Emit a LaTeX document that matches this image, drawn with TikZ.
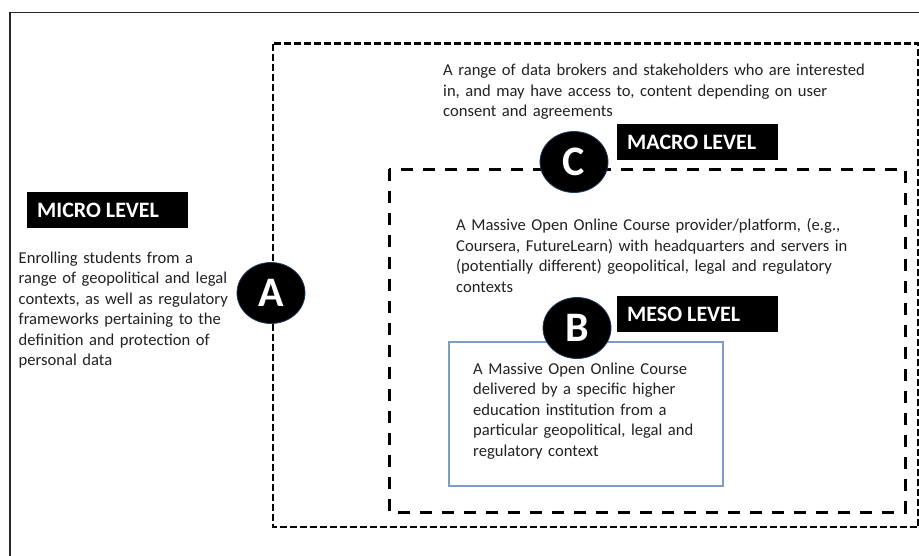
\documentclass[tikz,border=0pt]{standalone}
\usepackage{fontspec}
\setmainfont{Carlito}
\usetikzlibrary{shapes.geometric}
\definecolor{txt}{HTML}{222222}
\definecolor{boxblue}{HTML}{7F9CC4}
\definecolor{rimblue}{HTML}{1F3A5F}
\begin{document}
\begin{tikzpicture}[x=1pt,y=-1pt,
  bodytext/.style={font=\fontsize{16.6}{20.5}\selectfont, text=txt, align=left, text width=480pt, inner sep=0pt, anchor=base west},
  levelbox/.style={fill=black, draw=none, minimum width=161pt, minimum height=36pt, inner sep=0pt, anchor=north west},
  leveltext/.style={font=\bfseries\fontsize{22}{26}\selectfont, text=white, inner sep=0pt, anchor=west},
  badge/.style={ellipse, fill=black, draw=rimblue, line width=0.8pt, minimum width=68pt, minimum height=61pt, inner sep=0pt, font=\bfseries\fontsize{42}{42}\selectfont, text=white},
  bigdash/.style={draw=black, line width=2.4pt, dash pattern=on 7pt off 3pt},
  innerdash/.style={draw=black, line width=3pt, dash pattern=on 12pt off 10pt},
  framebox/.style={draw=black!85, line width=1.4pt},
  coursebox/.style={draw=boxblue, line width=1.2pt},
]
\useasboundingbox (0,0) rectangle (919,555);
\fill[white] (0,0) rectangle (919,555);
% frames
\draw[framebox] (10,12.5) rectangle (940,580);
\draw[bigdash] (273,43.5) rectangle (918.5,527);
\draw[innerdash] (389,169) rectangle (905,512);
\draw[coursebox] (449,342) rectangle (723,486);
% texts
\node[bodytext] (macrotext) at (443,75.7) {A range of data brokers and stakeholders who are interested\\in, and may have access to, content depending on user\\consent and agreements};
\node[bodytext] (microtext) at (18.5,263) {Enrolling students from a\\range of geopolitical and legal\\contexts, as well as regulatory\\frameworks pertaining to the\\definition and protection of\\personal data};
\node[bodytext] (platformtext) at (456,230.8) {A Massive Open Online Course provider/platform, (e.g.,\\Coursera, FutureLearn) with headquarters and servers in\\(potentially different) geopolitical, legal and regulatory\\contexts};
\node[bodytext] (coursetext) at (473,374) {A Massive Open Online Course\\delivered by a specific higher\\education institution from a\\particular geopolitical, legal and\\regulatory context};
% level labels
\node[levelbox] (microbox) at (27,192) {};
\node[leveltext] (microlabel) at ([xshift=10pt]microbox.west) {MICRO LEVEL};
\node[levelbox] (macrobox) at (617,124) {};
\node[leveltext] (macrolabel) at ([xshift=10pt]macrobox.west) {MACRO LEVEL};
\node[levelbox] (mesobox) at (617,296) {};
\node[leveltext] (mesolabel) at ([xshift=10pt]mesobox.west) {MESO LEVEL};
% badges
\node[badge] (badgeA) at (271,293) {A};
\node[badge] (badgeC) at (574,162) {C};
\node[badge] (badgeB) at (577,328) {B};
\end{tikzpicture}
\end{document}
